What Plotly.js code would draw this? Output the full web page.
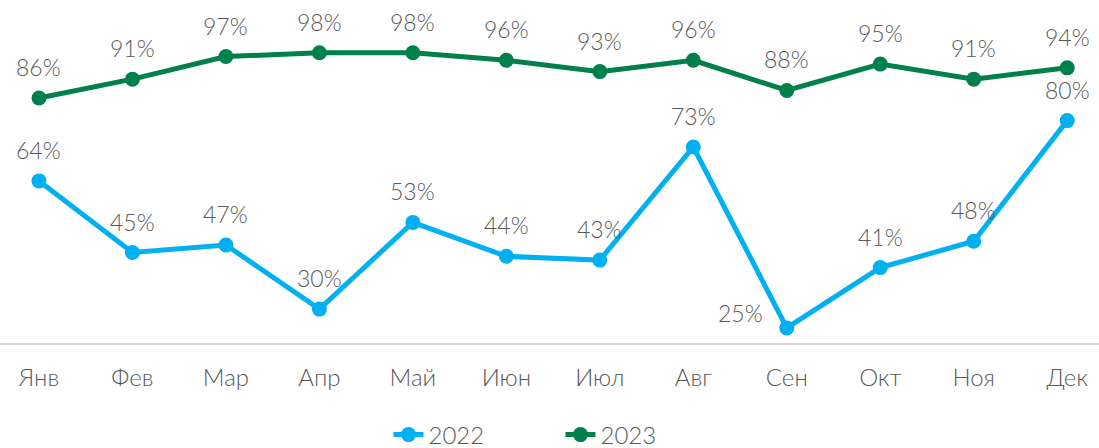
<!DOCTYPE html>
<html>
<head>
<meta charset="utf-8">
<script src="https://cdn.plot.ly/plotly-3.0.1.min.js"></script>
<style>html,body{margin:0;padding:0;background:#fff;}#chart{width:1099px;height:448px;}</style>
</head>
<body>
<div id="chart"></div>
<script>
const months = ["Янв","Фев","Мар","Апр","Май","Июн","Июл","Авг","Сен","Окт","Ноя","Дек"];
const values2022 = [64,45,47,30,53,44,43,73,25,41,48,80];
const values2023 = [86,91,97,98,98,96,93,96,88,95,91,94];
const seriesNames = ["2022","2023"];

const fontFamily = "Lato, 'Open Sans', sans-serif";
const textColor = "#595959";
const labelFont = {family: fontFamily, size: 23, color: textColor, weight: 300};

const traces = [
  {
    x: months, y: values2022, name: seriesNames[0], type: "scatter", mode: "lines+markers",
    line: {color: "#00B0F0", width: 5},
    marker: {color: "#00B0F0", size: 15},
    cliponaxis: false
  },
  {
    x: months, y: values2023, name: seriesNames[1], type: "scatter", mode: "lines+markers",
    line: {color: "#00804A", width: 5},
    marker: {color: "#00804A", size: 15},
    cliponaxis: false
  }
];

const annotations = [];
values2022.forEach((v,i)=>{
  const sep = i===8;
  annotations.push({x: months[i], y: v, text: v+"%", showarrow: false,
    xanchor: "center", yanchor: "middle",
    xshift: sep ? -46 : 0, yshift: sep ? 15 : 31, font: labelFont});
});
values2023.forEach((v,i)=>{
  annotations.push({x: months[i], y: v, text: v+"%", showarrow: false,
    xanchor: "center", yanchor: "middle", yshift: 31, font: labelFont});
});

const layout = {
  width: 1099, height: 448,
  margin: {l: 0, r: 0, t: 0, b: 105},
  paper_bgcolor: "#fff", plot_bgcolor: "#fff",
  font: {family: fontFamily, color: textColor, weight: 300},
  showlegend: true,
  legend: {orientation: "h", xref: "container", yref: "container", x: 0.51, xanchor: "center", y: 0.029, yanchor: "middle",
           font: {family: fontFamily, size: 24, color: textColor, weight: 300}, entrywidth: 127},
  xaxis: {
    type: "category", range: [-0.417, 11.34], showgrid: false, zeroline: false,
    showline: true, linecolor: "#d9d9d9", linewidth: 2,
    ticks: "outside", ticklen: 12, tickcolor: "rgba(0,0,0,0)",
    tickfont: {family: fontFamily, size: 24, color: textColor, weight: 300},
    automargin: false
  },
  yaxis: {range: [21, 112], visible: false, showgrid: false, zeroline: false},
  annotations: annotations
};

Plotly.newPlot("chart", traces, layout, {displayModeBar: false, staticPlot: true});
</script>
</body>
</html>
